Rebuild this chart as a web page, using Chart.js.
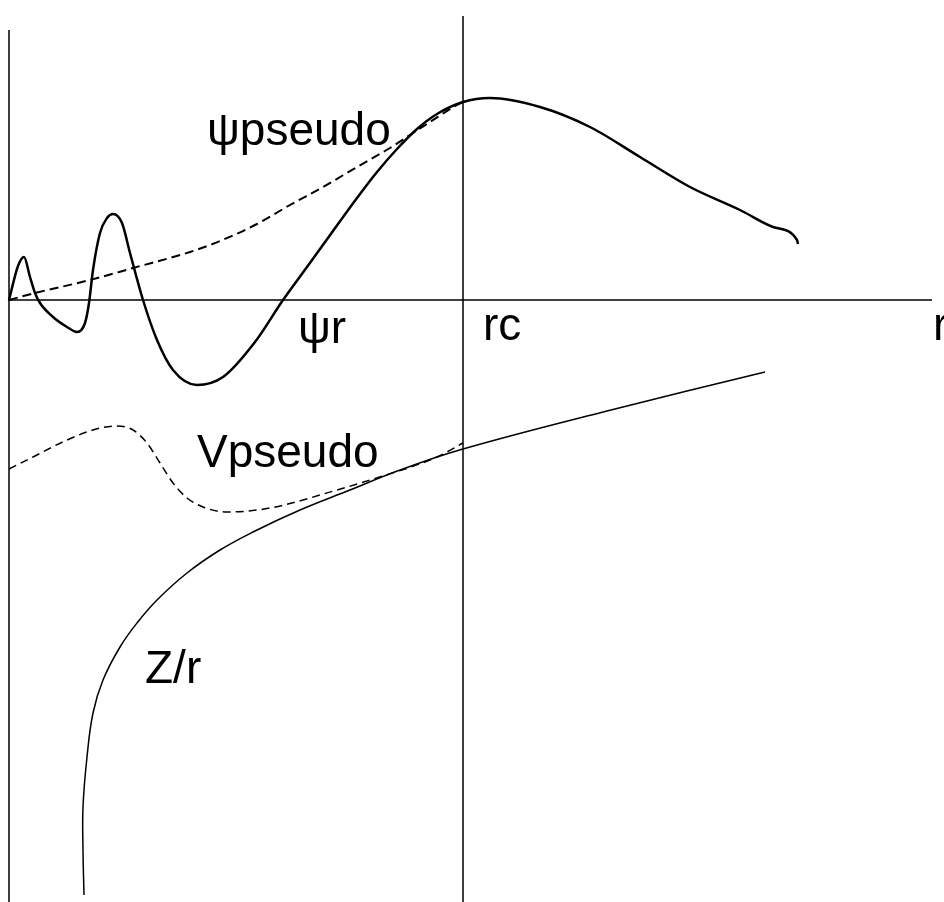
<!DOCTYPE html>
<html>
<head>
<meta charset="utf-8">
<script src="https://cdn.jsdelivr.net/npm/chart.js@4"></script>
<style>
  html, body { margin: 0; padding: 0; background: #fff; }
  #wrap { width: 944px; height: 902px; position: relative; }
</style>
</head>
<body>
<div id="wrap"><canvas id="chart"></canvas></div>
<script>
// r in arbitrary units (rc = 4.54), values in arbitrary units
const rc = 4.54;

// real all-electron wavefunction
const psiReal = [
  [0, 0], [0.09, 0.34], [0.15, 0.43], [0.21, 0.23], [0.26, 0.07], [0.31, -0.03],
  [0.44, -0.17], [0.58, -0.27], [0.68, -0.32], [0.76, -0.23], [0.80, -0.03],
  [0.84, 0.30], [0.91, 0.67], [0.98, 0.82], [1.04, 0.86], [1.13, 0.77],
  [1.21, 0.47], [1.34, 0], [1.48, -0.40], [1.64, -0.70], [1.88, -0.85],
  [2.14, -0.77], [2.46, -0.42], [2.74, 0], [2.98, 0.33], [3.24, 0.69],
  [3.48, 1.02], [3.68, 1.28], [3.88, 1.51], [4.08, 1.71], [4.28, 1.86],
  [4.54, 1.98], [4.81, 2.02], [5.31, 1.93], [5.81, 1.73], [6.31, 1.43],
  [6.81, 1.13], [7.31, 0.90], [7.64, 0.73], [7.88, 0.60], [7.89, 0.56]
];

// pseudo wavefunction
const psiPseudo = [
  [0, 0], [0.26, 0.07], [0.81, 0.20], [1.24, 0.32], [1.81, 0.48], [2.11, 0.59],
  [2.48, 0.76], [2.81, 0.95], [3.14, 1.13], [3.48, 1.33], [3.81, 1.52],
  [3.98, 1.63], [4.21, 1.78], [4.48, 1.95], [4.54, 1.98]
];

// pseudopotential
const vPseudo = [
  [0, -1.69], [0.24, -1.57], [0.58, -1.40], [0.91, -1.28], [1.08, -1.26],
  [1.24, -1.30], [1.38, -1.43], [1.51, -1.63], [1.64, -1.83], [1.78, -1.98],
  [1.94, -2.07], [2.18, -2.12], [2.61, -2.08], [3.28, -1.90], [3.61, -1.80],
  [4.28, -1.57], [4.54, -1.43]
];

// Coulomb potential Z/r
const coulomb = [
  [0.75, -5.95], [0.74, -5.50], [0.74, -5.07], [0.78, -4.57], [0.84, -4.13],
  [0.94, -3.80], [1.11, -3.47], [1.28, -3.23], [1.48, -3.00], [1.78, -2.73],
  [2.11, -2.50], [2.44, -2.32], [2.91, -2.10], [3.41, -1.90], [3.91, -1.70],
  [4.54, -1.49], [5.98, -1.11], [7.56, -0.72]
];

// axis lines
const rAxis = [[-0.01, 0], [9.23, 0]];
const leftAxis = [[0, 2.70], [0, -6.1]];
const rcLine = [[rc, 2.84], [rc, -6.1]];

const labels = [
  { text: 'ψpseudo', x: 1.98, y: 1.55 },
  { text: 'ψr', x: 2.89, y: -0.43 },
  { text: 'rc', x: 4.74, y: -0.40 },
  { text: 'r', x: 9.24, y: -0.40 },
  { text: 'Vpseudo', x: 1.88, y: -1.67 },
  { text: 'Z/r', x: 1.36, y: -3.83 }
];

const pts = arr => arr.map(([x, y]) => ({ x, y }));

function line(data, width, opts = {}) {
  return Object.assign({
    data: pts(data),
    borderColor: '#000',
    borderWidth: width,
    pointRadius: 0,
    fill: false,
    tension: 0,
  }, opts);
}

const textLabels = {
  id: 'textLabels',
  afterDatasetsDraw(chart) {
    const { ctx, scales } = chart;
    ctx.save();
    ctx.fillStyle = '#000';
    ctx.font = '46px "Liberation Sans", Arial, sans-serif';
    ctx.textAlign = 'left';
    ctx.textBaseline = 'alphabetic';
    labels.forEach(l => {
      ctx.fillText(l.text, scales.x.getPixelForValue(l.x), scales.y.getPixelForValue(l.y));
    });
    ctx.restore();
  }
};

new Chart(document.getElementById('chart'), {
  type: 'line',
  data: {
    datasets: [
      line(leftAxis, 1.5),
      line(rcLine, 1.5),
      line(rAxis, 1.5),
      line(psiPseudo, 2, { borderDash: [9, 5], cubicInterpolationMode: 'monotone' }),
      line(vPseudo, 1.5, { borderDash: [8, 5], cubicInterpolationMode: 'monotone' }),
      line(coulomb, 1.5, { tension: 0.4 }),
      line(psiReal, 2.5, { cubicInterpolationMode: 'monotone' }),
    ]
  },
  options: {
    responsive: true,
    maintainAspectRatio: false,
    animation: false,
    layout: { padding: 0 },
    plugins: { legend: { display: false }, tooltip: { enabled: false } },
    scales: {
      x: { type: 'linear', min: -0.09, max: 9.35, display: false },
      y: { type: 'linear', min: -6.02, max: 3.0, display: false }
    }
  },
  plugins: [textLabels]
});
</script>
</body>
</html>
